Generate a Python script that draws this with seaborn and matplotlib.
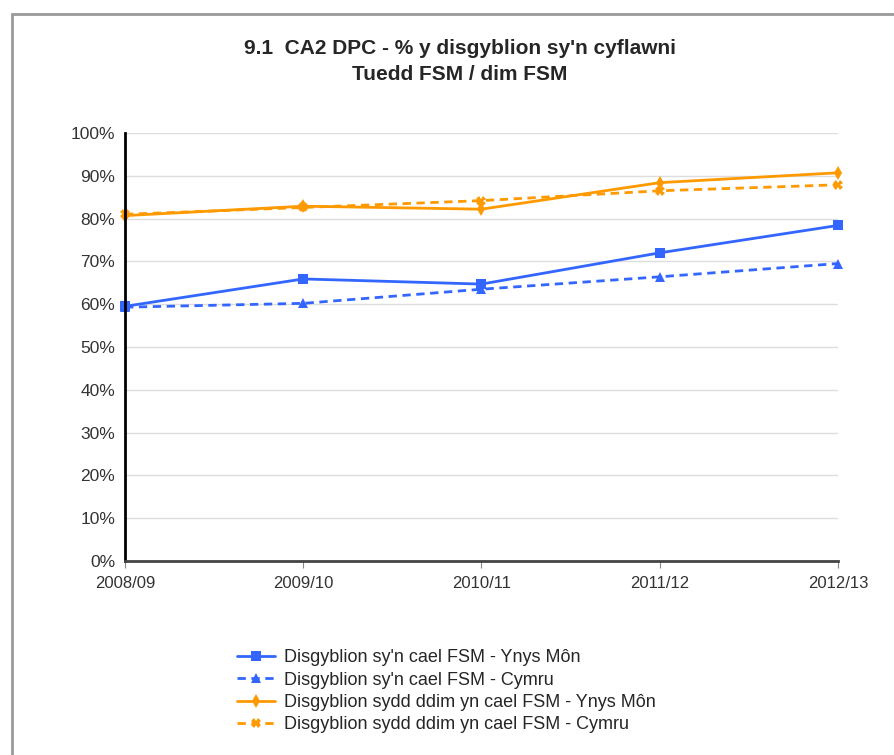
import matplotlib
matplotlib.use("Agg")
import matplotlib.pyplot as plt
import matplotlib.patches as mpatches
import pandas as pd
import seaborn as sns
from matplotlib.ticker import FuncFormatter, MultipleLocator

years = ["2008/09", "2009/10", "2010/11", "2011/12", "2012/13"]
fsm_mon = [59.5, 65.9, 64.7, 72.0, 78.4]
fsm_cymru = [59.3, 60.2, 63.5, 66.4, 69.5]
nonfsm_mon = [80.7, 82.9, 82.2, 88.4, 90.7]
nonfsm_cymru = [81.0, 82.6, 84.2, 86.5, 87.9]

labels = [
    "Disgyblion sy'n cael FSM - Ynys Môn",
    "Disgyblion sy'n cael FSM - Cymru",
    "Disgyblion sydd ddim yn cael FSM - Ynys Môn",
    "Disgyblion sydd ddim yn cael FSM - Cymru",
]
series = [fsm_mon, fsm_cymru, nonfsm_mon, nonfsm_cymru]

rows = []
for lab, vals in zip(labels, series):
    for yr, v in zip(years, vals):
        rows.append({"year": yr, "value": v, "series": lab})
df = pd.DataFrame(rows)

blue = "#3366ff"
orange = "#ff9900"
palette = dict(zip(labels, [blue, blue, orange, orange]))
markers = dict(zip(labels, ["s", "^", "d", "X"]))
dashes = dict(zip(labels, ["", (3, 2), "", (3, 2)]))

sns.set_style("white")
plt.rcParams["font.family"] = ["Liberation Sans", "DejaVu Sans"]

fig = plt.figure(figsize=(8.95, 7.55), dpi=100)
ax = fig.add_axes([125 / 895, 1 - 561 / 755, (838 - 125) / 895, (561 - 133) / 755])

sns.lineplot(data=df, x="year", y="value", hue="series", style="series",
             palette=palette, markers=markers, dashes=dashes, hue_order=labels,
             style_order=labels, linewidth=2, markersize=7, markeredgewidth=0,
             sort=False, ax=ax, legend=True)
for ln in ax.lines:
    ln.set_clip_on(False)

ax.set_xlim(0, len(years) - 1)
ax.set_ylim(0, 100)
ax.yaxis.set_major_locator(MultipleLocator(10))
ax.yaxis.set_major_formatter(FuncFormatter(lambda v, p: f"{int(v)}%"))
ax.grid(axis="y", color="#dddddd", linewidth=1)
ax.set_axisbelow(True)
ax.set_xlabel("")
ax.set_ylabel("")
for s in ["top", "right"]:
    ax.spines[s].set_visible(False)
ax.spines["left"].set_color("black")
ax.spines["left"].set_linewidth(2)
ax.spines["bottom"].set_color("#444444")
ax.spines["bottom"].set_linewidth(2)
ax.tick_params(axis="y", length=5, color="#888888", labelsize=12.5, labelcolor="#333333", pad=2)
ax.tick_params(axis="x", length=5, color="#888888", labelsize=12, labelcolor="#333333", pad=6, bottom=True)

handles, labs = ax.get_legend_handles_labels()
ax.get_legend().remove()
fig.legend(handles, labs, loc="upper left", bbox_to_anchor=(230 / 895, 1 - 642 / 755),
           frameon=False, fontsize=13, handlelength=2.1, labelspacing=0.3,
           handletextpad=0.5, borderaxespad=0)

fig.text(460 / 895, 1 - 48 / 755, "9.1  CA2 DPC - % y disgyblion sy'n cyflawni",
         ha="center", va="center", fontsize=15, fontweight="bold")
fig.text(460 / 895, 1 - 74 / 755, "Tuedd FSM / dim FSM",
         ha="center", va="center", fontsize=15, fontweight="bold")

# outer frame of the chart (cut off at right and bottom)
fig.patches.append(mpatches.Rectangle((12 / 895, -0.1), 1.2, 1 - 14 / 755 + 0.1,
                                      transform=fig.transFigure, fill=False,
                                      edgecolor="#999999", linewidth=2))

fig.savefig("out.png", dpi=100)
